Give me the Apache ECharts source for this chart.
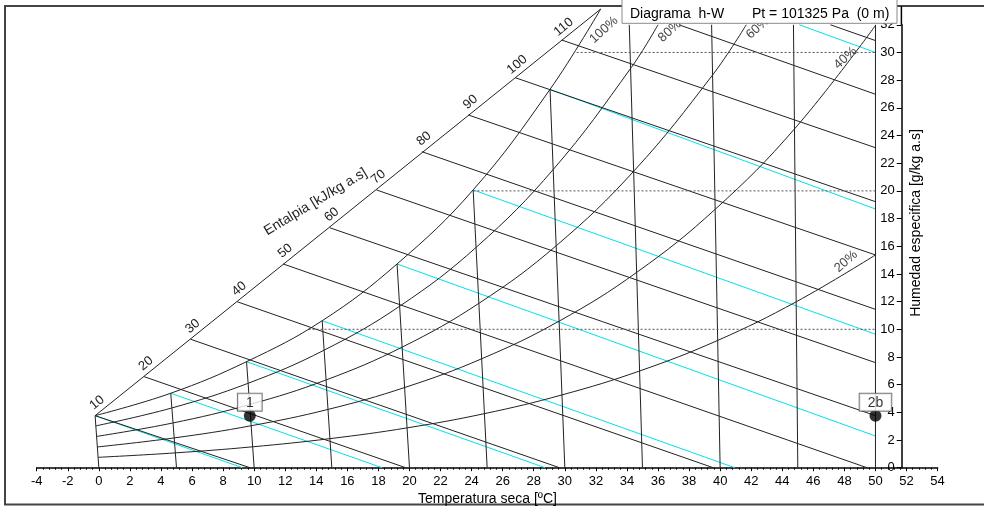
<!DOCTYPE html>
<html><head><meta charset="utf-8">
<script src="https://cdn.jsdelivr.net/npm/echarts@6/dist/echarts.min.js"></script>
<style>html,body{margin:0;padding:0;background:#fff}#c{width:984px;height:506px}</style>
</head><body><div id="c"></div>
<script>
const FONT = '"Liberation Sans", Arial, sans-serif';

// axes
const tempMin = -4, tempMax = 54, tempStep = 2;
const humMin = 0, humMax = 32, humStep = 2;

// enthalpy lines [kJ/kg a.s]: start on the enthalpy scale line, end on W=0 or on the 50 ºC edge
const enthalpyValues = [10, 20, 30, 40, 50, 60, 70, 80, 90, 100, 110, 120, 130];
const enthalpyStartX = [-0.24, 2.91, 5.91, 8.91, 11.87, 14.86, 17.87, 20.80, 23.80, 26.80, 29.80, 37.35, 47.1];
const enthalpyStartW = [3.76, 6.58, 9.28, 11.99, 14.72, 17.34, 20.07, 22.83, 25.48, 28.18, 30.90, 32, 32];
const enthalpyEndX = [9.73, 19.75, 29.65, 39.55, 49.45, 50, 50, 50, 50, 50, 50, 50, 50];
const enthalpyEndW = [0, 0, 0, 0, 0, 3.76, 7.59, 11.44, 15.37, 19.22, 23.12, 26.98, 30.86];
const enthalpyLabelled = [10, 20, 30, 40, 50, 60, 70, 80, 90, 100, 110];

// enthalpy scale line (left boundary) ends
const scaleLineX = [-0.24, 32.31];
const scaleLineW = [3.76, 33.14];

// dry-bulb isotherms [ºC]
const isoTemps = [0, 5, 10, 15, 20, 25, 30, 35, 40, 45, 50];
const isoTopX = [-0.24, 4.63, 9.51, 14.38, 19.2, 24.1, 29.05, 34.15, 39.45, 44.72, 50];
const isoTopW = [3.76, 5.38, 7.66, 10.62, 14.72, 20.07, 27.34, 32, 32, 32, 32];
const isoBottomX = [0, 5, 10, 15, 20, 25, 30, 35, 40, 45, 50];

// wet-bulb lines (cyan)
const wbStartX = [-0.24, 4.63, 9.51, 14.38, 19.2, 24.1, 29.05, 45.1];
const wbStartW = [3.76, 5.38, 7.66, 10.62, 14.72, 20.07, 27.34, 32];
const wbEndX = [9.24, 18.23, 28.73, 40.94, 50, 50, 50, 50];
const wbEndW = [0, 0, 0, 0, 2.29, 9.64, 18.69, 30.0];

// dotted constant-humidity lines
const dottedW = [10, 20, 30];
const dottedStartX = [13.5, 24.12, 30.76];
const dottedEndX = [50, 50, 50];

// relative humidity curves [X, W]
const rh100 = [[-0.24,3.76],[4.63,5.38],[9.51,7.66],[14.38,10.62],[19.2,14.72],[24.1,20.07],[29.05,27.34],[32.31,33.14]];
const rh80 = [[-0.2,3.02],[4.68,4.31],[9.59,6.09],[14.5,8.49],[19.41,11.7],[24.33,15.96],[29.28,21.58],[34.27,28.9],[36.0,32]];
const rh60 = [[-0.14,2.26],[4.76,3.23],[9.7,4.56],[14.63,6.34],[19.56,8.73],[24.5,11.9],[29.46,16.05],[34.46,21.45],[39.53,28.4],[41.68,32]];
const rh40 = [[-0.09,1.5],[4.84,2.15],[9.8,3.03],[14.75,4.21],[19.71,5.8],[24.67,7.88],[29.65,10.6],[34.65,14.13],[39.69,18.68],[44.79,24.48],[50,31.95]];
const rh20 = [[-0.04,0.75],[4.92,1.07],[9.9,1.51],[14.88,2.1],[19.86,2.88],[24.84,3.91],[29.82,5.26],[34.82,6.99],[39.85,9.2],[44.9,11.99],[50,15.37]];
const rhLabels = ['100%', '80%', '60%', '40%', '20%'];
const rhLabelX = [32.52, 36.76, 42.42, 48.07, 48.1];
const rhLabelW = [31.63, 31.55, 31.77, 29.6, 14.9];

// state points
const stateNames = ['1', '2b'];
const stateX = [9.72, 50];
const stateW = [3.76, 3.76];

const BLACK = '#222';
const CYAN = 'rgb(0,225,235)';

function seg(points, color, extra) {
  return Object.assign({
    type: 'line', data: points, symbol: 'none', showSymbol: false, clip: false,
    silent: true, animation: false,
    lineStyle: { color: color, width: 1 }, z: 2
  }, extra || {});
}

const series = [];
series.push(seg([[scaleLineX[0], scaleLineW[0]], [scaleLineX[1], scaleLineW[1]]], BLACK));
enthalpyValues.forEach((h, i) => series.push(seg([[enthalpyStartX[i], enthalpyStartW[i]], [enthalpyEndX[i], enthalpyEndW[i]]], BLACK)));
isoTemps.forEach((t, i) => series.push(seg([[isoTopX[i], isoTopW[i]], [isoBottomX[i], 0]], BLACK)));
wbStartX.forEach((x, i) => series.push(seg([[x, wbStartW[i]], [wbEndX[i], wbEndW[i]]], CYAN, { z: 1 })));
dottedW.forEach((w, i) => series.push(seg([[dottedStartX[i], w], [dottedEndX[i], w]], '#555', { lineStyle: { color: '#555', width: 1, type: [2, 2] } })));
[rh100, rh80, rh60, rh40, rh20].forEach(c => series.push(seg(c, BLACK, { smooth: 0.4 })));
series.push({
  type: 'scatter', silent: true, animation: false, z: 10,
  data: stateX.map((x, i) => ({ value: [x, stateW[i]], name: stateNames[i] })),
  symbolSize: 12, itemStyle: { color: '#000' },
  label: {
    show: true, position: 'top', distance: -1, formatter: p => p.name,
    color: '#000', fontFamily: FONT, fontSize: 14, lineHeight: 14,
    backgroundColor: '#fff', borderColor: '#555', borderWidth: 1, padding: [2, 8, 1, 8]
  }
});

const chart = echarts.init(document.getElementById('c'), null, { renderer: 'canvas' });
const option = {
  animation: false,
  backgroundColor: '#fff',
  grid: { left: 36.7, right: 46.4, top: 24.8, bottom: 38.3, containLabel: false },
  xAxis: {
    type: 'value', min: tempMin, max: tempMax, interval: tempStep,
    axisLine: { show: true, onZero: false, lineStyle: { color: '#000', width: 1.5 } },
    axisTick: { show: true, length: 3.5, lineStyle: { color: '#000' } },
    minorTick: { show: true, splitNumber: 5, length: 2, lineStyle: { color: '#000' } },
    axisLabel: { color: '#000', fontFamily: FONT, fontSize: 13, margin: 7 },
    splitLine: { show: false }
  },
  yAxis: {
    type: 'value', min: humMin, max: humMax, interval: humStep, position: 'right', offset: -35.9,
    axisLine: { show: true, onZero: false, lineStyle: { color: '#000', width: 1.5 } },
    axisTick: { show: true, inside: true, length: 5, lineStyle: { color: '#000' } },
    axisLabel: { inside: true, color: '#000', fontFamily: FONT, fontSize: 13, margin: 7 },
    splitLine: { show: false }
  },
  series: series
};
chart.setOption(option);

const toPx = (x, w) => chart.convertToPixel({ gridIndex: 0 }, [x, w]);
const graphics = [];
const deg = Math.PI / 180;
// outer frame
graphics.push({ type: 'rect', z: 0, silent: true, shape: { x: 5, y: 6, width: 990, height: 498.5 }, style: { fill: null, stroke: '#444', lineWidth: 2 } });
// y axis line extension to the frame
const yTop = toPx(51.67, humMax);
graphics.push({ type: 'line', z: 5, silent: true, shape: { x1: yTop[0], y1: 6, x2: yTop[0], y2: yTop[1] }, style: { stroke: '#000', lineWidth: 1.5 } });
// enthalpy value labels
enthalpyValues.forEach((h, i) => {
  if (enthalpyLabelled.indexOf(h) < 0) return;
  const p = toPx(enthalpyStartX[i], enthalpyStartW[i]);
  graphics.push({ type: 'text', z: 20, silent: true, x: p[0] + 2, y: p[1] - 13, rotation: 40 * deg,
    style: { text: String(h), font: '13px ' + FONT, fill: '#222', align: 'center', verticalAlign: 'middle' } });
});
// RH labels
rhLabels.forEach((t, i) => {
  const p = toPx(rhLabelX[i], rhLabelW[i]);
  graphics.push({ type: 'text', z: 20, silent: true, x: p[0], y: p[1], rotation: 42 * deg,
    style: { text: t, font: '13px ' + FONT, fill: '#444', align: 'center', verticalAlign: 'middle' } });
});
// enthalpy axis title
const ep = toPx(13.95, 19.2);
graphics.push({ type: 'text', z: 20, silent: true, x: ep[0], y: ep[1], rotation: 31 * deg,
  style: { text: 'Entalpia [kJ/kg a.s]', font: '14px ' + FONT, fill: '#222', align: 'center', verticalAlign: 'middle' } });
// axis titles
graphics.push({ type: 'text', z: 20, silent: true, x: 487.5, y: 499,
  style: { text: 'Temperatura seca [ºC]', font: '14px ' + FONT, fill: '#000', align: 'center', verticalAlign: 'middle' } });
graphics.push({ type: 'text', z: 20, silent: true, x: 916, y: 223, rotation: 90 * deg,
  style: { text: 'Humedad especifica [g/kg a.s]', font: '14px ' + FONT, fill: '#000', align: 'center', verticalAlign: 'middle' } });
// title box
graphics.push({ type: 'rect', z: 100, silent: true, shape: { x: 622, y: -1, width: 275, height: 24.3 }, style: { fill: '#fff', stroke: '#8a8a8a', lineWidth: 1 } });
graphics.push({ type: 'text', z: 101, silent: true, x: 630, y: 14, style: { text: 'Diagrama  h-W', font: '14px ' + FONT, fill: '#000', align: 'left', verticalAlign: 'middle' } });
graphics.push({ type: 'text', z: 101, silent: true, x: 752, y: 14, style: { text: 'Pt = 101325 Pa  (0 m)', font: '14px ' + FONT, fill: '#000', align: 'left', verticalAlign: 'middle' } });
chart.setOption({ graphic: { elements: graphics } });
</script>
</body></html>
